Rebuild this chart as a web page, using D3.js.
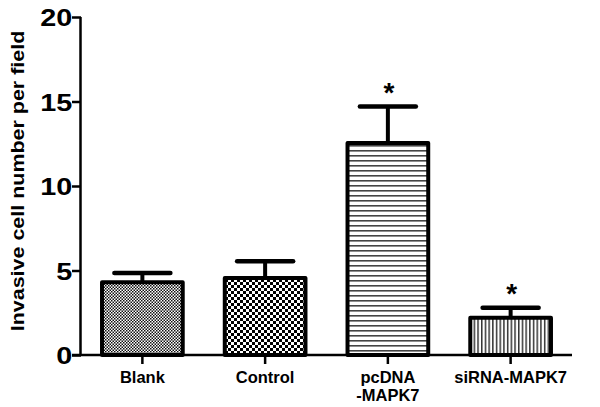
<!DOCTYPE html>
<html><head><meta charset="utf-8">
<script src="https://cdn.jsdelivr.net/npm/d3@7"></script>
<style>body{margin:0;background:#fff}svg{display:block}text{font-family:"Liberation Sans",Arial,sans-serif;font-weight:bold}</style>
</head><body><svg id="c" width="600" height="407"></svg>
<script>
const categories = ["Blank", "Control", "pcDNA\n-MAPK7", "siRNA-MAPK7"];
const means = [4.3, 4.55, 12.55, 2.2];
const errors = [0.55, 1.0, 2.15, 0.6];
const significant = [false, false, true, true];
const patterns = ["fineCheck", "coarseCheck", "hLines", "vLines"];
const yTicks = [0, 5, 10, 15, 20];
const yLabel = "Invasive cell number per field";

const svg = d3.select("#c");
const defs = svg.append("defs");
// patterns
let p = defs.append("pattern").attr("id","fineCheck").attr("patternUnits","userSpaceOnUse").attr("width",3).attr("height",3);
p.append("rect").attr("width",3).attr("height",3).attr("fill","#fff");
p.append("rect").attr("width",1.5).attr("height",1.5).attr("fill","#111");
p.append("rect").attr("x",1.5).attr("y",1.5).attr("width",1.5).attr("height",1.5).attr("fill","#111");
p = defs.append("pattern").attr("id","coarseCheck").attr("patternUnits","userSpaceOnUse").attr("width",6).attr("height",6);
p.append("rect").attr("width",6).attr("height",6).attr("fill","#fff");
p.append("rect").attr("width",3).attr("height",3).attr("fill","#000");
p.append("rect").attr("x",3).attr("y",3).attr("width",3).attr("height",3).attr("fill","#000");
p = defs.append("pattern").attr("id","hLines").attr("patternUnits","userSpaceOnUse").attr("width",5).attr("height",5);
p.append("rect").attr("width",5).attr("height",5).attr("fill","#fff");
p.append("rect").attr("width",5).attr("height",1.6).attr("fill","#444");
p = defs.append("pattern").attr("id","vLines").attr("patternUnits","userSpaceOnUse").attr("width",3.7).attr("height",4);
p.append("rect").attr("width",3.7).attr("height",4).attr("fill","#fff");
p.append("rect").attr("width",1.5).attr("height",4).attr("fill","#333");

const x0 = 81, x1 = 572, yTop = 17, yBot = 355;
const x = d3.scaleBand().domain(categories).range([x0, x1]).padding(0);
const y = d3.scaleLinear().domain([0, 20]).range([yBot, yTop]);
const barW = x.bandwidth() * 0.69;
const capW = 56;

const g = svg.append("g");
// bars
const bars = g.selectAll(".bar").data(categories).enter().append("g");
bars.append("line")
  .attr("x1", (d,i)=>x(d)+x.bandwidth()/2).attr("x2",(d,i)=>x(d)+x.bandwidth()/2)
  .attr("y1",(d,i)=>y(means[i])).attr("y2",(d,i)=>y(means[i]+errors[i]))
  .attr("stroke","#000").attr("stroke-width",4);
bars.append("line")
  .attr("x1",(d,i)=>x(d)+x.bandwidth()/2-capW/2).attr("x2",(d,i)=>x(d)+x.bandwidth()/2+capW/2)
  .attr("y1",(d,i)=>y(means[i]+errors[i])).attr("y2",(d,i)=>y(means[i]+errors[i]))
  .attr("stroke","#000").attr("stroke-width",4.5).attr("stroke-linecap","round");
bars.append("rect")
  .attr("x",(d)=>x(d)+x.bandwidth()/2-barW/2+2)
  .attr("width",barW-4)
  .attr("y",(d,i)=>y(means[i]))
  .attr("height",(d,i)=>y(0)-y(means[i]))
  .attr("fill",(d,i)=>`url(#${patterns[i]})`)
  .attr("stroke","#000").attr("stroke-width",4).attr("stroke-linejoin","round");
bars.filter((d,i)=>significant[i]).append("text")
  .attr("x",d=>x(d)+x.bandwidth()/2+1)
  .attr("y",(d)=>{const i=categories.indexOf(d);return y(means[i]+errors[i])-5;})
  .attr("text-anchor","middle").attr("font-size",28).text("*");

// y axis
const yAxis = d3.axisLeft(y).tickValues(yTicks).tickSize(9).tickPadding(0).tickFormat(d3.format("d"));
const ya = svg.append("g").attr("transform",`translate(${x0},0)`).call(yAxis);
ya.select(".domain").attr("stroke","#000").attr("stroke-width",2.5).attr("d",`M-0.5,${yTop}V${yBot}`);
ya.selectAll(".tick line").attr("stroke-width",2.5);
ya.selectAll(".tick text").attr("font-size",24).attr("fill","#000").attr("dy","0.36em")
  .attr("font-family","Liberation Sans, Arial, sans-serif").attr("font-weight","bold")
  .attr("transform","translate(-10,0) scale(1.2,1) translate(10,0)");

// x axis
const xAxis = d3.axisBottom(x).tickSize(9).tickFormat("");
const xa = svg.append("g").attr("transform",`translate(0,${yBot})`).call(xAxis);
xa.select(".domain").attr("stroke-width",2.5).attr("d",`M${x0-9},0H${x1}`);
xa.selectAll(".tick line").attr("stroke-width",2.5);
xa.selectAll(".tick").each(function(d){
  const t = d3.select(this).append("text").attr("text-anchor","middle").attr("fill","#000")
    .attr("font-size",16.5).attr("y",28);
  d.split("\n").forEach((s,k)=>t.append("tspan").attr("x",0).attr("dy",k?18:0).text(s));
});

// y label
svg.append("text").attr("transform",`translate(24,${(yTop+yBot)/2-5}) rotate(-90) scale(1.13,1)`)
  .attr("text-anchor","middle").attr("font-size",19).text(yLabel);
</script></body></html>
